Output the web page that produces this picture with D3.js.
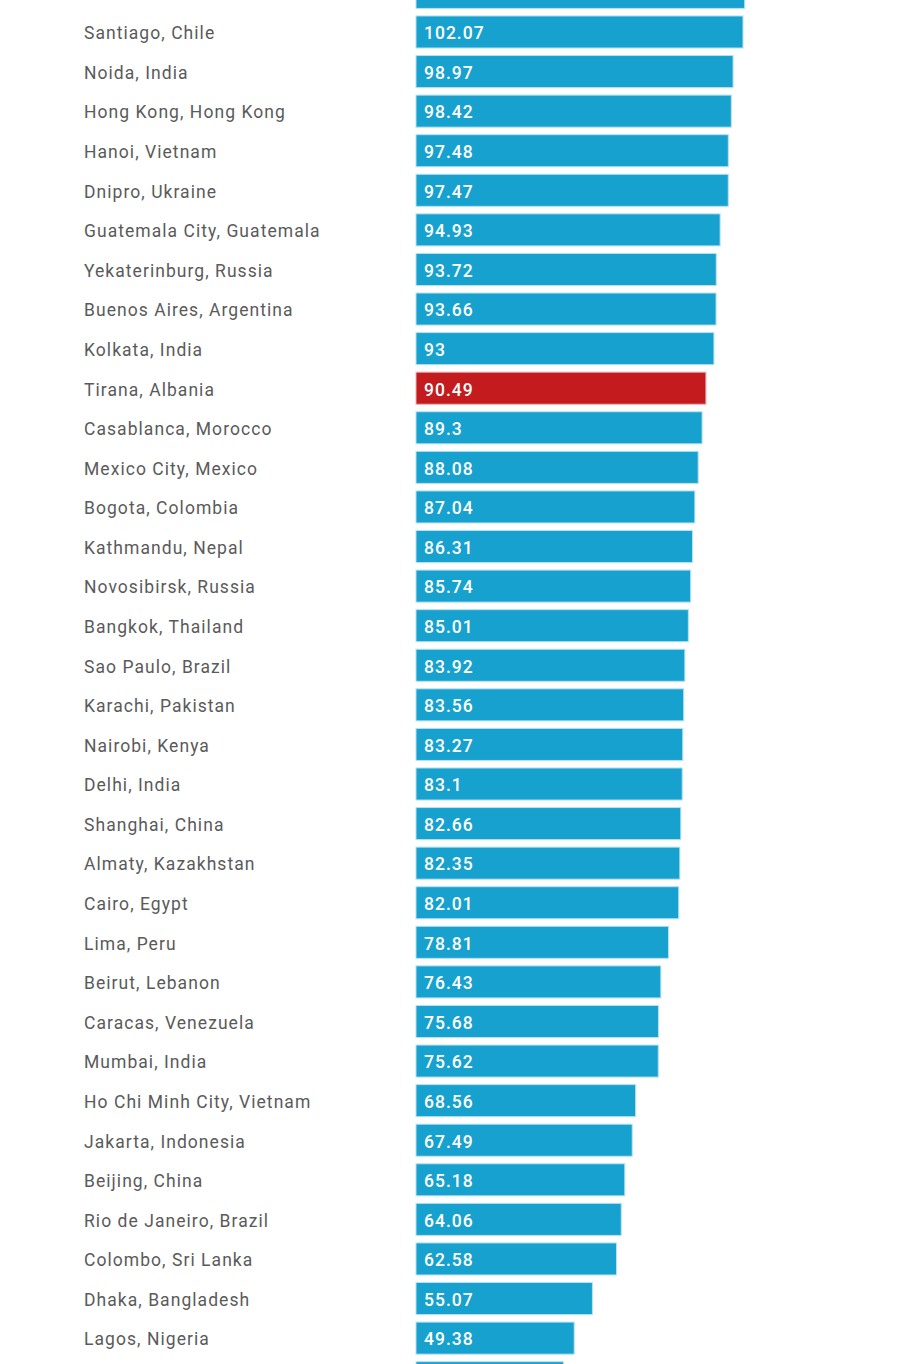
<!DOCTYPE html>
<html>
<head>
<meta charset="utf-8">
<script src="https://cdn.jsdelivr.net/npm/d3@7"></script>
<style>
  html, body { margin: 0; padding: 0; background: #fff; }
  svg { display: block; }
</style>
</head>
<body>
<div class="graph"></div>
<script>

// data (first and last rows are cut off by the frame)
var cities = ["", "Santiago, Chile", "Noida, India", "Hong Kong, Hong Kong", "Hanoi, Vietnam",
	"Dnipro, Ukraine", "Guatemala City, Guatemala", "Yekaterinburg, Russia", "Buenos Aires, Argentina",
	"Kolkata, India", "Tirana, Albania", "Casablanca, Morocco", "Mexico City, Mexico", "Bogota, Colombia",
	"Kathmandu, Nepal", "Novosibirsk, Russia", "Bangkok, Thailand", "Sao Paulo, Brazil", "Karachi, Pakistan",
	"Nairobi, Kenya", "Delhi, India", "Shanghai, China", "Almaty, Kazakhstan", "Cairo, Egypt", "Lima, Peru",
	"Beirut, Lebanon", "Caracas, Venezuela", "Mumbai, India", "Ho Chi Minh City, Vietnam", "Jakarta, Indonesia",
	"Beijing, China", "Rio de Janeiro, Brazil", "Colombo, Sri Lanka", "Dhaka, Bangladesh", "Lagos, Nigeria", " "];
var values = [102.6, 102.07, 98.97, 98.42, 97.48, 97.47, 94.93, 93.72, 93.66, 93, 90.49, 89.3, 88.08, 87.04,
	86.31, 85.74, 85.01, 83.92, 83.56, 83.27, 83.1, 82.66, 82.35, 82.01, 78.81, 76.43, 75.68, 75.62, 68.56,
	67.49, 65.18, 64.06, 62.58, 55.07, 49.38, 46];
var highlight = "Tirana, Albania";

var svgWidth = 900;
var svgHeight = 1364;

var rows = cities.map(function(c, i) { return {city: c, value: values[i], key: i}; });

var svg = d3.select("div.graph")
		.append("svg")
		.attr("width", svgWidth)
		.attr("height", svgHeight);

var x = d3.scaleLinear()
	.domain([0, 102.07])
	.range([416, 743]);

var step = 39.58;
var y = d3.scaleBand()
	.domain(rows.map(function(d) { return d.key; }))
	.range([-7.6 - step / 2, -7.6 - step / 2 + step * rows.length])
	.paddingInner(0.19)
	.paddingOuter(0.095);

var gBars = svg.append("g");

gBars.selectAll("rect")
	.data(rows)
	.enter()
	.append("rect")
	.attr("x", x(0))
	.attr("y", function(d) { return y(d.key); })
	.attr("width", function(d) { return x(d.value) - x(0); })
	.attr("height", y.bandwidth())
	.attr("fill", function(d) { return d.city === highlight ? "#c41c1e" : "#17a1cf"; })
	.attr("stroke", function(d) { return d.city === highlight ? "#e9b0b0" : "#b6e2f1"; })
	.attr("stroke-width", 1);

svg.append("g").selectAll("text.city")
	.data(rows)
	.enter()
	.append("text")
	.attr("class", "city")
	.attr("x", 84)
	.attr("y", function(d) { return y(d.key) + y.bandwidth() / 2 + 1; })
	.attr("dy", "0.36em")
	.style("font-family", "Roboto, sans-serif")
	.style("font-size", "17.5px")
	.style("letter-spacing", "1.05px")
	.style("fill", "#5a5a5a")
	.text(function(d) { return d.city.trim(); });

svg.append("g").selectAll("text.val")
	.data(rows.filter(function(d) { return d.city.trim() !== ""; }))
	.enter()
	.append("text")
	.attr("class", "val")
	.attr("x", x(0) + 8)
	.attr("y", function(d) { return y(d.key) + y.bandwidth() / 2 + 1; })
	.attr("dy", "0.36em")
	.style("font-family", "Roboto, sans-serif")
	.style("font-size", "17.5px")
	.style("letter-spacing", "1px")
	.style("font-weight", "500")
	.style("fill", "#fff")
	.text(function(d) { return d.value; });

</script>
</body>
</html>
